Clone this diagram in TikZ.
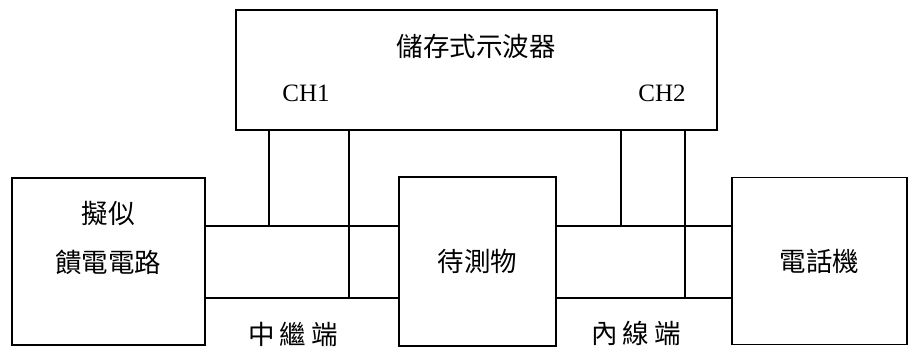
\documentclass[tikz,border=0pt]{standalone}
\usepackage{fontspec}
\setmainfont{Liberation Serif}
\newfontfamily\cjk{Noto Sans CJK TC}
\begin{document}
\begin{tikzpicture}[x=1pt,y=-1pt,
  box/.style={draw,line width=1.4pt,inner sep=0pt},
  wire/.style={line width=1.4pt},
  cjklab/.style={font=\cjk\fontsize{26.5}{30}\selectfont,inner sep=0pt},
  chlab/.style={font=\fontsize{25}{30}\selectfont,inner sep=0pt}]
\useasboundingbox (0,0) rectangle (909,351);
% boxes
\node[box,minimum width=481pt,minimum height=120pt] (scope) at (476.5,70) {};
\node[box,minimum width=193pt,minimum height=167pt] (feed) at (108.5,261.5) {};
\node[box,minimum width=157pt,minimum height=169pt,cjklab] (dut) at (477.5,261.5) {待測物};
\node[box,minimum width=175pt,minimum height=167pt,cjklab] (phone) at (819.5,261) {電話機};
% labels
\node[cjklab] (title) at (476,46) {儲存式示波器};
\node[chlab] (ch1) at (306,93) {CH1};
\node[chlab] (ch2) at (662,93) {CH2};
\node[cjklab] (f1) at (108,214) {擬似};
\node[cjklab] (f2) at (108,262) {饋電電路};
\node[cjklab] (trunk) at (293,334) {中\hspace{5pt}繼\hspace{5pt}端};
\node[cjklab] (ext) at (636,333) {內\hspace{5pt}線\hspace{5pt}端};
% wire levels
\coordinate (ya) at (0,226);
\coordinate (yb) at (0,298);
\coordinate (p1) at (269,226);
\coordinate (p2) at (349,298);
\coordinate (p3) at (621,226);
\coordinate (p4) at (685,298);
% horizontal wires
\draw[wire] (feed.east |- ya) -- (dut.west |- ya);
\draw[wire] (feed.east |- yb) -- (dut.west |- yb);
\draw[wire] (dut.east |- ya) -- (phone.west |- ya);
\draw[wire] (dut.east |- yb) -- (phone.west |- yb);
% probes
\draw[wire] (p1 |- scope.south) -- (p1);
\draw[wire] (p2 |- scope.south) -- (p2);
\draw[wire] (p3 |- scope.south) -- (p3);
\draw[wire] (p4 |- scope.south) -- (p4);
\end{tikzpicture}
\end{document}
